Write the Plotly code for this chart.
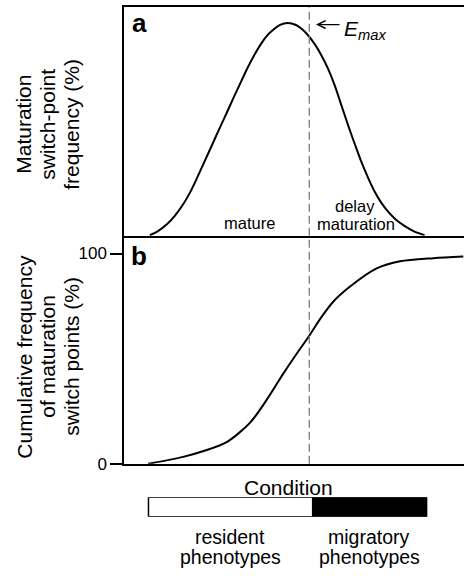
import plotly.graph_objects as go

W, H = 464, 576
FONT = "Liberation Sans, Arial, Helvetica, sans-serif"

# Panel a: maturation switch-point frequency (relative %, peak = 100)
condition_a = [7.6, 10.0, 12.6, 15.0, 17.4, 19.4, 21.4, 23.5, 25.8, 27.9, 30.2,
               32.4, 34.6, 36.5, 38.5, 40.4, 42.4, 43.9, 45.9, 48.2, 50.6, 52.4,
               53.8, 56.2, 58.0, 60.0, 62.0, 63.8, 65.9, 67.9, 69.8, 71.8,
               73.7, 75.6, 77.6, 80.0, 82.6, 85.3, 88.4]
freq_a = [0.3, 2.2, 5.4, 9.5, 14.8, 20.3, 26.9, 34.3, 42.3, 49.8, 57.7,
          65.5, 73.0, 79.4, 85.4, 90.4, 94.6, 96.8, 99.1, 100.0, 99.0, 97.0,
          94.8, 89.8, 84.9, 78.5, 70.5, 62.0, 52.0, 43.0, 34.8, 27.2,
          20.8, 15.7, 11.5, 7.6, 4.6, 2.1, 0.3]

# Panel b: cumulative frequency of maturation switch points (%)
condition_b = [7.1, 17.4, 23.9, 30.2, 37.1, 42.0, 46.9, 51.8, 54.5, 57.6, 61.6,
               66.5, 74.3, 81.2, 91.0, 99.8]
cum_b = [0.0, 3.3, 6.3, 10.3, 19.6, 30.5, 43.0, 54.7, 60.9, 68.7, 77.2,
         84.3, 92.9, 96.3, 97.8, 98.6]

e_max = 54.5
cum_ticks = [0, 100]
cum_ticktext = ["0", "100"]

# Phenotype bar along the condition axis
phenotypes = ["resident", "migratory"]
pheno_start = [7.2, 55.5]
pheno_end = [55.5, 89.0]
pheno_colors = ["white", "black"]


def px_x(p):
    return p / W


def px_y(p):
    return 1 - p / H


fig = go.Figure()

fig.add_trace(go.Scatter(x=condition_a, y=freq_a, mode="lines",
                         line=dict(color="black", width=2, shape="spline", smoothing=0.8),
                         xaxis="x", yaxis="y", showlegend=False, hoverinfo="skip"))
fig.add_trace(go.Scatter(x=condition_b, y=cum_b, mode="lines",
                         line=dict(color="black", width=2, shape="spline", smoothing=0.8),
                         xaxis="x2", yaxis="y2", showlegend=False, hoverinfo="skip"))
for name, s, e, c in zip(phenotypes, pheno_start, pheno_end, pheno_colors):
    fig.add_trace(go.Bar(y=[0], x=[e - s], base=[s], orientation="h", width=1,
                         marker=dict(color=c, line=dict(color="black", width=1.5)),
                         xaxis="x3", yaxis="y3", showlegend=False, name=name,
                         hoverinfo="skip"))

xdom = [124 / W, 1]
ya_top = 1 - 7 / H
ya_bot = 1 - 240 / H
yb_bot = 1 - 472 / H
ya_range = [0, (240 - 7) / 2.167]
yb_range = [0, (472 - 240) / 2.14]

axis_common = dict(showgrid=False, zeroline=False, linecolor="black", linewidth=1.5)

fig.update_layout(
    width=W, height=H,
    margin=dict(l=0, r=0, t=0, b=0),
    paper_bgcolor="white", plot_bgcolor="white",
    font=dict(family=FONT, color="black"),
    barmode="overlay",
    xaxis=dict(domain=xdom, range=[0, 100], anchor="y", showline=True, mirror=True,
               ticks="", showticklabels=False, **axis_common),
    yaxis=dict(domain=[ya_bot, ya_top], range=ya_range, anchor="x", showline=True,
               ticks="", showticklabels=False, **axis_common),
    xaxis2=dict(domain=xdom, range=[0, 100], anchor="y2", showline=True,
                ticks="", showticklabels=False, **axis_common),
    yaxis2=dict(domain=[yb_bot, ya_bot], range=yb_range, anchor="x2", showline=True,
                tickvals=cum_ticks, ticktext=cum_ticktext, ticks="outside", ticklen=12,
                tickwidth=1.5, tickcolor="black", tickfont=dict(size=17, family=FONT),
                **axis_common),
    xaxis3=dict(domain=xdom, range=[0, 100], anchor="y3", visible=False),
    yaxis3=dict(domain=[1 - 526 / H, 1 - 506 / H], range=[-0.5, 0.5], anchor="x3",
                visible=False),
)

# dashed E_max line through both panels
fig.add_shape(type="line", xref="x", yref="paper", x0=e_max, x1=e_max,
              y0=yb_bot, y1=ya_top,
              line=dict(color="#7a7a7a", width=1.3, dash="8px,4px"))

ann = []


def txt(text, x, y, size, **kw):
    d = dict(text=text, x=px_x(x), y=px_y(y), xref="paper", yref="paper",
             showarrow=False, font=dict(size=size, family=FONT, color="black"),
             xanchor="center", yanchor="middle")
    d.update(kw)
    ann.append(d)


# panel labels
txt("<b>a</b>", 139, 23, 26)
txt("<b>b</b>", 139, 261, 26)

# y-axis titles
for t, x in zip(["Maturation", "switch-point", "frequency (%)"], [24, 48, 72]):
    txt(t, x, 127, 21, textangle=-90)
for t, x in zip(["Cumulative frequency", "of maturation", "switch points (%)"], [25, 48, 72]):
    txt(t, x, 363, 21, textangle=-90)

# in-panel labels
txt("mature", 249, 227, 16.5)
txt("delay", 355, 210, 16.5)
txt("maturation", 356, 228, 16.5)

# E_max label with arrow
ann.append(dict(text="", x=(316 - 124) / 3.4, y=(240 - 25) / 2.167, xref="x", yref="y",
                ax=25, ay=0, axref="pixel", ayref="pixel", showarrow=True,
                arrowhead=5, arrowsize=1.3, arrowwidth=1.2, arrowcolor="black"))
txt("<i>E</i><sub><i>max</i></sub>", 342, 31, 21, xanchor="left")

# x-axis title & bar labels
txt("Condition", 288, 496, 21)
txt("resident", 230, 546, 19.5)
txt("phenotypes", 230, 567, 19.5)
txt("migratory", 369, 546, 19.5)
txt("phenotypes", 369, 567, 19.5)

fig.update_layout(annotations=ann)

fig.write_html("out.html", config=dict(displayModeBar=False),
               post_script="document.body.style.margin='0';document.body.style.overflow='hidden';")
